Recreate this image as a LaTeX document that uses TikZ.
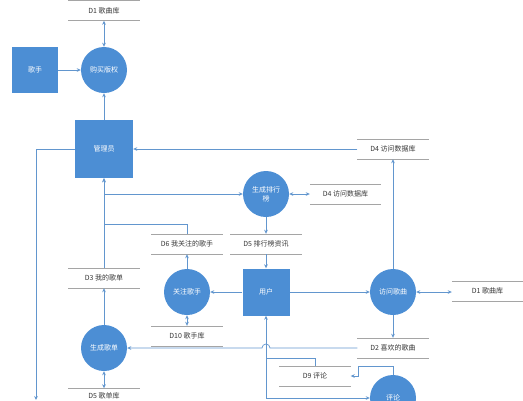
\documentclass[tikz,border=0pt]{standalone}
\usepackage{fontspec}
\newfontfamily\cjk{Noto Sans CJK SC}
\definecolor{dfdblue}{RGB}{76,142,212}
\definecolor{flowblue}{RGB}{98,150,206}
\definecolor{storegray}{RGB}{165,165,165}
\definecolor{storetext}{RGB}{55,55,55}
\usetikzlibrary{arrows.meta}
\usetikzlibrary{positioning}
\tikzset{
  >={Stealth[length=4pt,width=3.6pt]},
  proc/.style={circle, fill=dfdblue, minimum size=46pt, inner sep=0pt, text=white,
    font=\cjk\fontsize{7}{9}\selectfont, align=center},
  ent/.style={rectangle, fill=dfdblue, inner sep=0pt, text=white,
    font=\cjk\fontsize{7}{9}\selectfont},
  store/.style={minimum width=71pt, minimum height=20pt, inner sep=0pt, text=storetext,
    font=\cjk\fontsize{7}{9}\selectfont},
  storeline/.style={draw=storegray, line width=0.6pt},
  flow/.style={draw=flowblue, line width=0.7pt}
}

\begin{document}
\begin{tikzpicture}[x=1pt,y=-1pt]
  \useasboundingbox (0,0) rectangle (523,400);

  % processes, entities and stores
  \node [store] (d1a) at (104,10.5) {D1 歌曲库};
  \node [proc] (buy) at (104,70) {购买版权};
  \node [ent, minimum size=46pt] (singer) at (35,70) {歌手};
  \node [ent, minimum size=58pt] (admin) at (104,149) {管理员};
  \node [store] (d4a) at (393,149) {D4 访问数据库};
  \node [proc] (rank) at (266,194) {生成排行\\榜};
  \node [store] (d4b) at (345.5,194) {D4 访问数据库};
  \node [store] (d6) at (187,244) {D6 我关注的歌手};
  \node [store] (d5a) at (266,244) {D5 排行榜资讯};
  \node [store] (d3) at (104,278) {D3 我的歌单};
  \node [proc] (follow) at (187,292) {关注歌手};
  \node [ent, minimum size=47pt] (user) at (266,292) {用户};
  \node [proc] (visit) at (393,292) {访问歌曲};
  \node [store] (d1b) at (487.5,291) {D1 歌曲库};
  \node [store] (d10) at (187,336) {D10 歌手库};
  \node [proc] (mklist) at (104,348) {生成歌单};
  \node [store] (d2) at (393,348) {D2 喜欢的歌曲};
  \node [store] (d9) at (315,376) {D9 评论};
  \node [proc] (comment) at (393,398) {评论};
  \node [store, minimum height=14pt] (d5b) at (104,395.5) {D5 歌单库};

  \foreach \s in {d1a,d4a,d4b,d6,d5a,d3,d1b,d10,d2,d9,d5b} {
    \draw [storeline] (\s.north west) -- (\s.north east);
    \draw [storeline] (\s.south west) -- (\s.south east);
  }

  \coordinate (adminout) at (36,400);
  \coordinate (split) at (104,194);
  \coordinate (hop) at (270,348);
  \coordinate (ucorner) at (266,398);
  \coordinate (d9join) at (266,358);
  \coordinate (d9in) at (358,376);

  % flows
  \draw [flow, <->] (d1a) -- (buy);
  \draw [flow, ->] (singer) -- (buy);
  \draw [flow, ->] (admin) -- (buy);
  \draw [flow, ->] (admin.west) -| (adminout);
  \draw [flow, ->] (d4a) -- (admin);
  \draw [flow, ->] (visit) -- (d4a);
  \draw [flow, <->] (rank) -- (d4b);
  \draw [flow, ->] (rank) -- (d5a);
  \draw [flow, ->] (d5a) -- (user);
  \draw [flow, ->] (d3) -- (admin);
  \draw [flow, ->] (split) -- (rank);
  \draw [flow, ->] (d6.north) -- ++(0,-9) -| (admin.south);
  \draw [flow, ->] (user) -- (follow);
  \draw [flow, ->] (follow) -- (d6);
  \draw [flow, <->] (follow) -- (d10);
  \draw [flow, ->] (user) -- (visit);
  \draw [flow, <->] (visit) -- (visit -| d1b.west);
  \draw [flow, ->] (visit) -- (d2);
  \draw [flow, ->] (d2.west) -- (hop) arc [start angle=0, end angle=-180, radius=4] -- (mklist);
  \draw [flow, ->] (mklist) -- (d3);
  \draw [flow, <->] (mklist) -- (d5b);
  \draw [flow, <->] (user.south) -- (ucorner) -- (comment.west);
  \draw [flow] (d9.north) |- (d9join);
  \draw [flow, ->] (comment.north) -- ++(0,-8) -| (d9in) -- (d9.east);
\end{tikzpicture}
\end{document}
